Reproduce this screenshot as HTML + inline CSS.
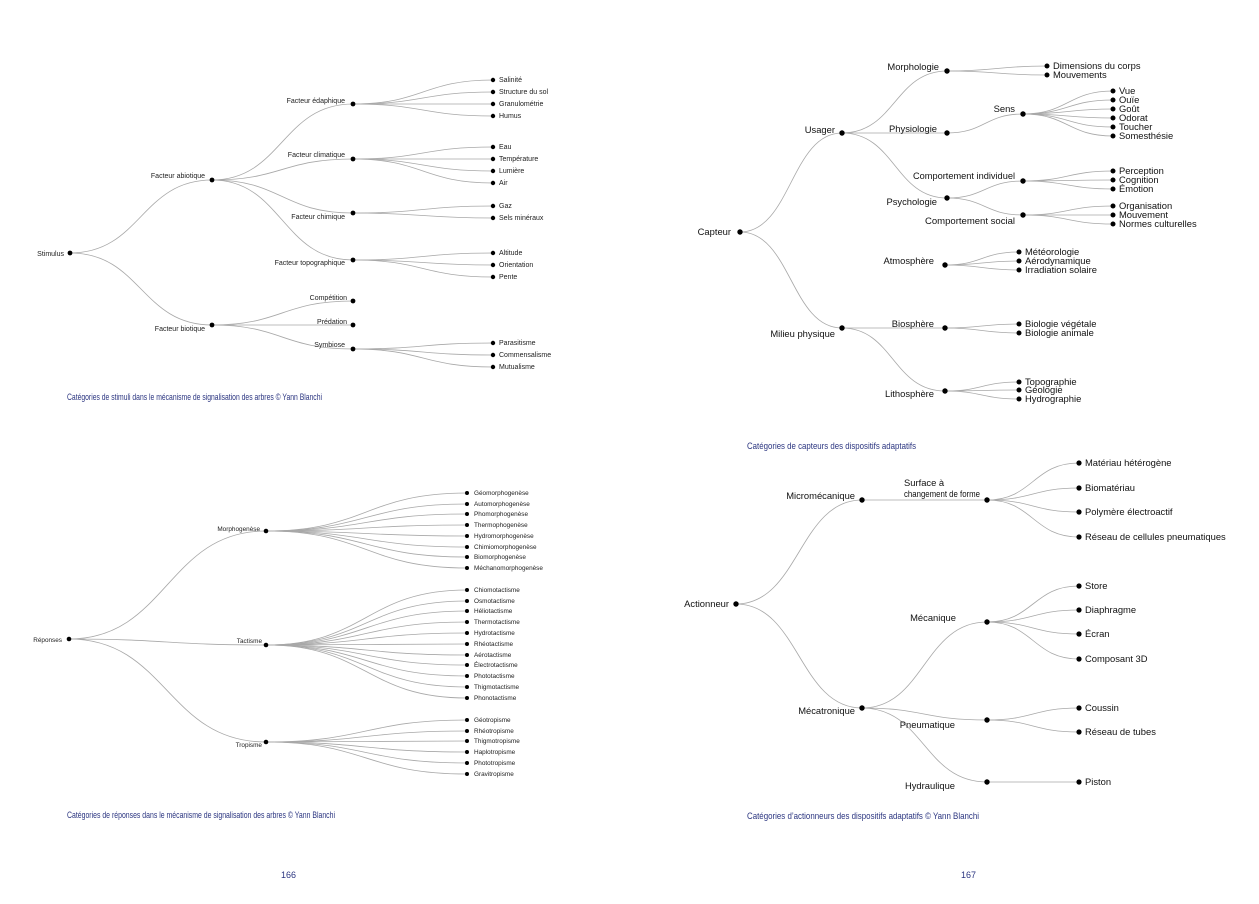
<!DOCTYPE html>
<html><head><meta charset="utf-8"><style>
html,body{margin:0;padding:0;background:#fff;}
svg{display:block;font-family:"Liberation Sans",sans-serif;}
.l{fill:none;stroke:#a8a8a8;stroke-width:0.8}
.d{fill:#000}
.t1{font-size:7px;fill:#222}
.t2{font-size:9.4px;fill:#111}
.t3{font-size:6.4px;fill:#222}
.cap{font-size:9.5px;fill:#2b3580}
</style></head><body>
<svg width="1259" height="904" viewBox="0 0 1259 904" xmlns="http://www.w3.org/2000/svg">
<!-- PANEL 1 -->
<g class="l">
<path d="M70 253 C141 253 141 180 212 180"/>
<path d="M70 253 C141 253 141 325 212 325"/>
<path d="M212 180 C282 180 282 104 353 104"/>
<path d="M212 180 C282 180 282 159 353 159"/>
<path d="M212 180 C282 180 282 213 353 213"/>
<path d="M212 180 C282 180 282 260 353 260"/>
<path d="M212 325 C282 325 282 301 353 301"/>
<path d="M212 325 L353 325"/>
<path d="M212 325 C282 325 282 349 353 349"/>
<path d="M353 104 C423 104 423 80 493 80"/><path d="M353 104 C423 104 423 92 493 92"/><path d="M353 104 L493 104"/><path d="M353 104 C423 104 423 116 493 116"/>
<path d="M353 159 C423 159 423 147 493 147"/><path d="M353 159 L493 159"/><path d="M353 159 C423 159 423 171 493 171"/><path d="M353 159 C423 159 423 183 493 183"/>
<path d="M353 213 C423 213 423 206 493 206"/><path d="M353 213 C423 213 423 218 493 218"/>
<path d="M353 260 C423 260 423 253 493 253"/><path d="M353 260 C423 260 423 265 493 265"/><path d="M353 260 C423 260 423 277 493 277"/>
<path d="M353 349 C423 349 423 343 493 343"/><path d="M353 349 C423 349 423 355 493 355"/><path d="M353 349 C423 349 423 367 493 367"/>
</g>
<g class="d">
<circle cx="70" cy="253" r="2.4"/><circle cx="212" cy="180" r="2.4"/><circle cx="212" cy="325" r="2.4"/>
<circle cx="353" cy="104" r="2.4"/><circle cx="353" cy="159" r="2.4"/><circle cx="353" cy="213" r="2.4"/><circle cx="353" cy="260" r="2.4"/>
<circle cx="353" cy="301" r="2.4"/><circle cx="353" cy="325" r="2.4"/><circle cx="353" cy="349" r="2.4"/>
<circle cx="493" cy="80" r="2.2"/><circle cx="493" cy="92" r="2.2"/><circle cx="493" cy="104" r="2.2"/><circle cx="493" cy="116" r="2.2"/>
<circle cx="493" cy="147" r="2.2"/><circle cx="493" cy="159" r="2.2"/><circle cx="493" cy="171" r="2.2"/><circle cx="493" cy="183" r="2.2"/>
<circle cx="493" cy="206" r="2.2"/><circle cx="493" cy="218" r="2.2"/>
<circle cx="493" cy="253" r="2.2"/><circle cx="493" cy="265" r="2.2"/><circle cx="493" cy="277" r="2.2"/>
<circle cx="493" cy="343" r="2.2"/><circle cx="493" cy="355" r="2.2"/><circle cx="493" cy="367" r="2.2"/>
</g>
<g class="t1" text-anchor="end">
<text x="64" y="256">Stimulus</text>
<text x="205" y="178">Facteur abiotique</text>
<text x="205" y="331">Facteur biotique</text>
<text x="345" y="103">Facteur édaphique</text>
<text x="345" y="157">Facteur climatique</text>
<text x="345" y="219">Facteur chimique</text>
<text x="345" y="265">Facteur topographique</text>
<text x="347" y="300">Compétition</text>
<text x="347" y="324">Prédation</text>
<text x="345" y="347">Symbiose</text>
</g>
<g class="t1">
<text x="499" y="82">Salinité</text><text x="499" y="94">Structure du sol</text><text x="499" y="106">Granulométrie</text><text x="499" y="118">Humus</text>
<text x="499" y="149">Eau</text><text x="499" y="161">Température</text><text x="499" y="173">Lumière</text><text x="499" y="185">Air</text>
<text x="499" y="208">Gaz</text><text x="499" y="220">Sels minéraux</text>
<text x="499" y="255">Altitude</text><text x="499" y="267">Orientation</text><text x="499" y="279">Pente</text>
<text x="499" y="345">Parasitisme</text><text x="499" y="357">Commensalisme</text><text x="499" y="369">Mutualisme</text>
</g>
<text class="cap" x="67" y="400" textLength="255" lengthAdjust="spacingAndGlyphs">Catégories de stimuli dans le mécanisme de signalisation des arbres © Yann Blanchi</text>

<!-- PANEL 2 -->
<g class="l">
<path d="M740 232 C791 232 791 133 842 133"/>
<path d="M740 232 C791 232 791 328 842 328"/>
<path d="M842 133 C895 133 895 71 947 71"/>
<path d="M842 133 L947 133"/>
<path d="M842 133 C895 133 895 198 947 198"/>
<path d="M842 328 L945 328"/>
<path d="M842 328 C893 328 893 391 945 391"/>
<path d="M947 71 C997 71 997 66 1047 66"/><path d="M947 71 C997 71 997 75 1047 75"/>
<path d="M947 133 C985 133 985 114 1023 114"/>
<path d="M947 198 C985 198 985 181 1023 181"/><path d="M947 198 C985 198 985 215 1023 215"/>
<path d="M1023 114 C1068 114 1068 91 1113 91"/><path d="M1023 114 C1068 114 1068 100 1113 100"/><path d="M1023 114 C1068 114 1068 109 1113 109"/><path d="M1023 114 C1068 114 1068 118 1113 118"/><path d="M1023 114 C1068 114 1068 127 1113 127"/><path d="M1023 114 C1068 114 1068 136 1113 136"/>
<path d="M1023 181 C1068 181 1068 171 1113 171"/><path d="M1023 181 C1068 181 1068 180 1113 180"/><path d="M1023 181 C1068 181 1068 189 1113 189"/>
<path d="M1023 215 C1068 215 1068 206 1113 206"/><path d="M1023 215 L1113 215"/><path d="M1023 215 C1068 215 1068 224 1113 224"/>
<path d="M945 265 C982 265 982 252 1019 252"/><path d="M945 265 C982 265 982 261 1019 261"/><path d="M945 265 C982 265 982 270 1019 270"/>
<path d="M945 328 C982 328 982 324 1019 324"/><path d="M945 328 C982 328 982 333 1019 333"/>
<path d="M945 391 C982 391 982 382 1019 382"/><path d="M945 391 C982 391 982 390 1019 390"/><path d="M945 391 C982 391 982 399 1019 399"/>
</g>
<g class="d">
<circle cx="740" cy="232" r="2.7"/><circle cx="842" cy="133" r="2.7"/><circle cx="842" cy="328" r="2.7"/>
<circle cx="947" cy="71" r="2.7"/><circle cx="947" cy="133" r="2.7"/><circle cx="947" cy="198" r="2.7"/>
<circle cx="945" cy="265" r="2.7"/><circle cx="945" cy="328" r="2.7"/><circle cx="945" cy="391" r="2.7"/>
<circle cx="1023" cy="114" r="2.7"/><circle cx="1023" cy="181" r="2.7"/><circle cx="1023" cy="215" r="2.7"/>
<circle cx="1047" cy="66" r="2.5"/><circle cx="1047" cy="75" r="2.5"/>
<circle cx="1113" cy="91" r="2.5"/><circle cx="1113" cy="100" r="2.5"/><circle cx="1113" cy="109" r="2.5"/><circle cx="1113" cy="118" r="2.5"/><circle cx="1113" cy="127" r="2.5"/><circle cx="1113" cy="136" r="2.5"/>
<circle cx="1113" cy="171" r="2.5"/><circle cx="1113" cy="180" r="2.5"/><circle cx="1113" cy="189" r="2.5"/>
<circle cx="1113" cy="206" r="2.5"/><circle cx="1113" cy="215" r="2.5"/><circle cx="1113" cy="224" r="2.5"/>
<circle cx="1019" cy="252" r="2.5"/><circle cx="1019" cy="261" r="2.5"/><circle cx="1019" cy="270" r="2.5"/>
<circle cx="1019" cy="324" r="2.5"/><circle cx="1019" cy="333" r="2.5"/>
<circle cx="1019" cy="382" r="2.5"/><circle cx="1019" cy="390" r="2.5"/><circle cx="1019" cy="399" r="2.5"/>
</g>
<g class="t2" text-anchor="end">
<text x="731" y="235">Capteur</text>
<text x="835" y="133">Usager</text>
<text x="835" y="337">Milieu physique</text>
<text x="939" y="70">Morphologie</text>
<text x="937" y="132">Physiologie</text>
<text x="937" y="205">Psychologie</text>
<text x="934" y="264">Atmosphère</text>
<text x="934" y="327">Biosphère</text>
<text x="934" y="397">Lithosphère</text>
<text x="1015" y="112">Sens</text>
<text x="1015" y="179" textLength="102" lengthAdjust="spacingAndGlyphs">Comportement individuel</text>
<text x="1015" y="224" textLength="90" lengthAdjust="spacingAndGlyphs">Comportement social</text>
</g>
<g class="t2">
<text x="1053" y="69">Dimensions du corps</text><text x="1053" y="78">Mouvements</text>
<text x="1119" y="94">Vue</text><text x="1119" y="103">Ouïe</text><text x="1119" y="112">Goût</text><text x="1119" y="121">Odorat</text><text x="1119" y="130">Toucher</text><text x="1119" y="139">Somesthésie</text>
<text x="1119" y="174">Perception</text><text x="1119" y="183">Cognition</text><text x="1119" y="192">Émotion</text>
<text x="1119" y="209">Organisation</text><text x="1119" y="218">Mouvement</text><text x="1119" y="227">Normes culturelles</text>
<text x="1025" y="255">Météorologie</text><text x="1025" y="264">Aérodynamique</text><text x="1025" y="273">Irradiation solaire</text>
<text x="1025" y="327">Biologie végétale</text><text x="1025" y="336">Biologie animale</text>
<text x="1025" y="385">Topographie</text><text x="1025" y="393">Géologie</text><text x="1025" y="402">Hydrographie</text>
</g>
<text class="cap" x="747" y="449" textLength="169" lengthAdjust="spacingAndGlyphs">Catégories de capteurs des dispositifs adaptatifs</text>

<!-- PANEL 3 -->
<g class="l">
<path d="M69 639 C167 639 167 531 266 531"/>
<path d="M69 639 C167 639 167 645 266 645"/>
<path d="M69 639 C167 639 167 742 266 742"/>
<path d="M266 531 C366 531 366 493 467 493"/><path d="M266 531 C366 531 366 504 467 504"/><path d="M266 531 C366 531 366 514 467 514"/><path d="M266 531 C366 531 366 525 467 525"/><path d="M266 531 C366 531 366 536 467 536"/><path d="M266 531 C366 531 366 547 467 547"/><path d="M266 531 C366 531 366 557 467 557"/><path d="M266 531 C366 531 366 568 467 568"/>
<path d="M266 645 C366 645 366 590 467 590"/><path d="M266 645 C366 645 366 601 467 601"/><path d="M266 645 C366 645 366 611 467 611"/><path d="M266 645 C366 645 366 622 467 622"/><path d="M266 645 C366 645 366 633 467 633"/><path d="M266 645 C366 645 366 644 467 644"/><path d="M266 645 C366 645 366 655 467 655"/><path d="M266 645 C366 645 366 665 467 665"/><path d="M266 645 C366 645 366 676 467 676"/><path d="M266 645 C366 645 366 687 467 687"/><path d="M266 645 C366 645 366 698 467 698"/>
<path d="M266 742 C366 742 366 720 467 720"/><path d="M266 742 C366 742 366 731 467 731"/><path d="M266 742 C366 742 366 741 467 741"/><path d="M266 742 C366 742 366 752 467 752"/><path d="M266 742 C366 742 366 763 467 763"/><path d="M266 742 C366 742 366 774 467 774"/>
</g>
<g class="d">
<circle cx="69" cy="639" r="2.3"/><circle cx="266" cy="531" r="2.3"/><circle cx="266" cy="645" r="2.3"/><circle cx="266" cy="742" r="2.3"/>
<circle cx="467" cy="493" r="2"/><circle cx="467" cy="504" r="2"/><circle cx="467" cy="514" r="2"/><circle cx="467" cy="525" r="2"/><circle cx="467" cy="536" r="2"/><circle cx="467" cy="547" r="2"/><circle cx="467" cy="557" r="2"/><circle cx="467" cy="568" r="2"/>
<circle cx="467" cy="590" r="2"/><circle cx="467" cy="601" r="2"/><circle cx="467" cy="611" r="2"/><circle cx="467" cy="622" r="2"/><circle cx="467" cy="633" r="2"/><circle cx="467" cy="644" r="2"/><circle cx="467" cy="655" r="2"/><circle cx="467" cy="665" r="2"/><circle cx="467" cy="676" r="2"/><circle cx="467" cy="687" r="2"/><circle cx="467" cy="698" r="2"/>
<circle cx="467" cy="720" r="2"/><circle cx="467" cy="731" r="2"/><circle cx="467" cy="741" r="2"/><circle cx="467" cy="752" r="2"/><circle cx="467" cy="763" r="2"/><circle cx="467" cy="774" r="2"/>
</g>
<g class="t3" text-anchor="end">
<text x="62" y="642">Réponses</text>
<text x="260" y="531">Morphogenèse</text>
<text x="262" y="643">Tactisme</text>
<text x="262" y="747">Tropisme</text>
</g>
<g class="t3">
<text x="474" y="495">Géomorphogenèse</text><text x="474" y="506">Automorphogenèse</text><text x="474" y="516">Phomorphogenèse</text><text x="474" y="527">Thermophogenèse</text><text x="474" y="538">Hydromorphogenèse</text><text x="474" y="549">Chimiomorphogenèse</text><text x="474" y="559">Biomorphogenèse</text><text x="474" y="570">Méchanomorphogenèse</text>
<text x="474" y="592">Chiomotactisme</text><text x="474" y="603">Osmotactisme</text><text x="474" y="613">Héliotactisme</text><text x="474" y="624">Thermotactisme</text><text x="474" y="635">Hydrotactisme</text><text x="474" y="646">Rhéotactisme</text><text x="474" y="657">Aérotactisme</text><text x="474" y="667">Électrotactisme</text><text x="474" y="678">Phototactisme</text><text x="474" y="689">Thigmotactisme</text><text x="474" y="700">Phonotactisme</text>
<text x="474" y="722">Géotropisme</text><text x="474" y="733">Rhéotropisme</text><text x="474" y="743">Thigmotropisme</text><text x="474" y="754">Haplotropisme</text><text x="474" y="765">Phototropisme</text><text x="474" y="776">Gravitropisme</text>
</g>
<text class="cap" x="67" y="818" textLength="268" lengthAdjust="spacingAndGlyphs">Catégories de réponses dans le mécanisme de signalisation des arbres © Yann Blanchi</text>

<!-- PANEL 4 -->
<g class="l">
<path d="M736 604 C799 604 799 500 862 500"/>
<path d="M736 604 C799 604 799 708 862 708"/>
<path d="M862 500 L987 500"/>
<path d="M862 708 C924 708 924 622 987 622"/>
<path d="M862 708 C924 708 924 720 987 720"/>
<path d="M862 708 C924 708 924 782 987 782"/>
<path d="M987 500 C1033 500 1033 463 1079 463"/><path d="M987 500 C1033 500 1033 488 1079 488"/><path d="M987 500 C1033 500 1033 512 1079 512"/><path d="M987 500 C1033 500 1033 537 1079 537"/>
<path d="M987 622 C1033 622 1033 586 1079 586"/><path d="M987 622 C1033 622 1033 610 1079 610"/><path d="M987 622 C1033 622 1033 634 1079 634"/><path d="M987 622 C1033 622 1033 659 1079 659"/>
<path d="M987 720 C1033 720 1033 708 1079 708"/><path d="M987 720 C1033 720 1033 732 1079 732"/>
<path d="M987 782 L1079 782"/>
</g>
<g class="d">
<circle cx="736" cy="604" r="2.7"/><circle cx="862" cy="500" r="2.7"/><circle cx="862" cy="708" r="2.7"/>
<circle cx="987" cy="500" r="2.7"/><circle cx="987" cy="622" r="2.7"/><circle cx="987" cy="720" r="2.7"/><circle cx="987" cy="782" r="2.7"/>
<circle cx="1079" cy="463" r="2.6"/><circle cx="1079" cy="488" r="2.6"/><circle cx="1079" cy="512" r="2.6"/><circle cx="1079" cy="537" r="2.6"/>
<circle cx="1079" cy="586" r="2.6"/><circle cx="1079" cy="610" r="2.6"/><circle cx="1079" cy="634" r="2.6"/><circle cx="1079" cy="659" r="2.6"/>
<circle cx="1079" cy="708" r="2.6"/><circle cx="1079" cy="732" r="2.6"/><circle cx="1079" cy="782" r="2.6"/>
</g>
<g class="t2" text-anchor="end">
<text x="729" y="607">Actionneur</text>
<text x="855" y="499">Micromécanique</text>
<text x="855" y="714">Mécatronique</text>
<text x="956" y="621">Mécanique</text>
<text x="955" y="728">Pneumatique</text>
<text x="955" y="789">Hydraulique</text>
</g>
<g class="t2">
<text x="904" y="486">Surface à</text>
<text x="904" y="497" textLength="76" lengthAdjust="spacingAndGlyphs">changement de forme</text>
<text x="1085" y="466">Matériau hétérogène</text><text x="1085" y="491">Biomatériau</text><text x="1085" y="515">Polymère électroactif</text><text x="1085" y="540">Réseau de cellules pneumatiques</text>
<text x="1085" y="589">Store</text><text x="1085" y="613">Diaphragme</text><text x="1085" y="637">Écran</text><text x="1085" y="662">Composant 3D</text>
<text x="1085" y="711">Coussin</text><text x="1085" y="735">Réseau de tubes</text>
<text x="1085" y="785">Piston</text>
</g>
<text class="cap" x="747" y="819" textLength="232" lengthAdjust="spacingAndGlyphs">Catégories d’actionneurs des dispositifs adaptatifs © Yann Blanchi</text>

<text class="cap" x="281" y="878" textLength="15" lengthAdjust="spacingAndGlyphs">166</text>
<text class="cap" x="961" y="878" textLength="15" lengthAdjust="spacingAndGlyphs">167</text>
</svg>
</body></html>
